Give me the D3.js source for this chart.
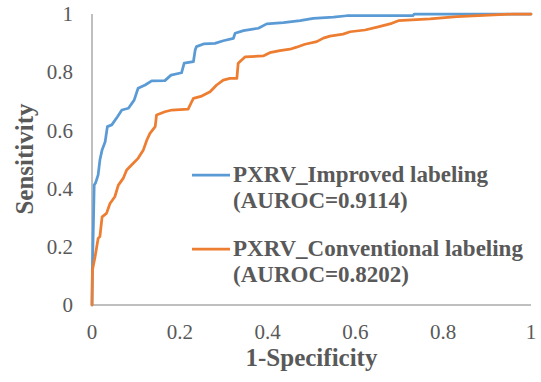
<!DOCTYPE html>
<html>
<head>
<meta charset="utf-8">
<script src="https://cdn.jsdelivr.net/npm/d3@7"></script>
<style>
  html, body { margin: 0; padding: 0; background: #fff; }
  svg { display: block; }
  svg text { font-family: "Liberation Serif", "Tinos", "Times New Roman", Times, "DejaVu Serif", serif; }
</style>
</head>
<body>
<svg id="chart" width="541" height="382"></svg>
<script>
// ROC points: [1-specificity, sensitivity]
const improvedRoc = [
  [0, 0], [0.001, 0.127], [0.003, 0.265], [0.005, 0.412], [0.008, 0.419],
  [0.014, 0.447], [0.018, 0.498], [0.023, 0.533], [0.030, 0.561], [0.035, 0.613],
  [0.045, 0.619], [0.058, 0.647], [0.068, 0.670], [0.083, 0.676], [0.096, 0.704],
  [0.105, 0.745], [0.121, 0.756], [0.136, 0.770], [0.166, 0.771], [0.180, 0.790],
  [0.204, 0.798], [0.210, 0.831], [0.231, 0.836], [0.235, 0.876], [0.238, 0.888],
  [0.254, 0.897], [0.280, 0.899], [0.299, 0.908], [0.322, 0.916], [0.326, 0.934],
  [0.345, 0.943], [0.379, 0.951], [0.398, 0.966], [0.436, 0.970], [0.474, 0.977],
  [0.504, 0.985], [0.550, 0.989], [0.580, 0.994], [0.731, 0.994], [0.734, 1],
  [1, 1]
];

const conventionalRoc = [
  [0, 0], [0.001, 0.120], [0.007, 0.166], [0.014, 0.229], [0.018, 0.235],
  [0.023, 0.303], [0.033, 0.315], [0.041, 0.349], [0.052, 0.372], [0.060, 0.412],
  [0.071, 0.435], [0.079, 0.464], [0.094, 0.487], [0.105, 0.504], [0.117, 0.533],
  [0.125, 0.567], [0.132, 0.590], [0.144, 0.613], [0.147, 0.653], [0.166, 0.664],
  [0.182, 0.670], [0.219, 0.673], [0.226, 0.695], [0.231, 0.710], [0.250, 0.718],
  [0.269, 0.733], [0.284, 0.756], [0.299, 0.773], [0.314, 0.779], [0.330, 0.779],
  [0.333, 0.831], [0.349, 0.853], [0.390, 0.856], [0.405, 0.867], [0.428, 0.874],
  [0.451, 0.879], [0.466, 0.886], [0.485, 0.896], [0.512, 0.905], [0.527, 0.917],
  [0.542, 0.924], [0.572, 0.931], [0.588, 0.939], [0.622, 0.945], [0.652, 0.956],
  [0.683, 0.968], [0.698, 0.977], [0.770, 0.983], [0.831, 0.991], [0.880, 0.994],
  [0.960, 1], [1, 1]
];

const tickValues = [0, 0.2, 0.4, 0.6, 0.8, 1];
const tickLabels = ["0", "0.2", "0.4", "0.6", "0.8", "1"];

const seriesNames = ["PXRV_Improved labeling", "PXRV_Conventional labeling"];
const seriesAuroc = ["(AUROC=0.9114)", "(AUROC=0.8202)"];
const seriesColors = ["#5b9bd5", "#ed7d31"];

const svg = d3.select("#chart");
const textColor = "#595959";

const plot = { left: 92, right: 531, top: 14, bottom: 305 };

const x = d3.scaleLinear().domain([0, 1]).range([plot.left, plot.right]);
const y = d3.scaleLinear().domain([0, 1]).range([plot.bottom, plot.top]);

// axes lines (no tick marks in the original)
svg.append("line")
  .attr("x1", x(0)).attr("x2", x(0))
  .attr("y1", y(0)).attr("y2", y(1))
  .attr("stroke", "#bfbfbf").attr("stroke-width", 2);

svg.append("line")
  .attr("x1", x(0)).attr("x2", x(1))
  .attr("y1", y(0)).attr("y2", y(0))
  .attr("stroke", "#bfbfbf").attr("stroke-width", 2);

// tick labels
svg.selectAll("text.ytick")
  .data(tickValues)
  .join("text")
  .attr("class", "ytick")
  .attr("x", 73)
  .attr("y", d => y(d))
  .attr("dy", "0.34em")
  .attr("text-anchor", "end")
  .attr("fill", textColor)
  .style("font-size", "21px")
  .text((d, i) => tickLabels[i]);

svg.selectAll("text.xtick")
  .data(tickValues)
  .join("text")
  .attr("class", "xtick")
  .attr("x", d => x(d))
  .attr("y", 339)
  .attr("text-anchor", "middle")
  .attr("fill", textColor)
  .style("font-size", "21px")
  .text((d, i) => tickLabels[i]);

// axis titles
svg.append("text")
  .attr("x", (plot.left + plot.right) / 2)
  .attr("y", 366)
  .attr("text-anchor", "middle")
  .attr("fill", textColor)
  .style("font-size", "25px")
  .style("font-weight", "bold")
  .text("1-Specificity");

svg.append("text")
  .attr("transform", "translate(33,159) rotate(-90)")
  .attr("text-anchor", "middle")
  .attr("fill", textColor)
  .style("font-size", "25px")
  .style("font-weight", "bold")
  .text("Sensitivity");

// curves
const line = d3.line()
  .x(d => x(d[0]))
  .y(d => y(d[1]));

[improvedRoc, conventionalRoc].forEach((pts, i) => {
  svg.append("path")
    .attr("d", line(pts))
    .attr("fill", "none")
    .attr("stroke", seriesColors[i])
    .attr("stroke-width", 2.75)
    .attr("stroke-linejoin", "round")
    .attr("stroke-linecap", "round");
});

// legend
const legendRows = [
  { swatchY: 175, baseline: 182 },
  { swatchY: 249, baseline: 256 }
];

legendRows.forEach((row, i) => {
  svg.append("line")
    .attr("x1", 192).attr("x2", 230)
    .attr("y1", row.swatchY).attr("y2", row.swatchY)
    .attr("stroke", seriesColors[i])
    .attr("stroke-width", 2.75);

  const t = svg.append("text")
    .attr("x", 233)
    .attr("y", row.baseline)
    .attr("fill", textColor)
    .style("font-size", "23px")
    .style("font-weight", "bold");
  t.append("tspan").attr("x", 233).text(seriesNames[i]);
  t.append("tspan").attr("x", 233).attr("dy", 26).text(seriesAuroc[i]);
});
</script>
</body>
</html>
